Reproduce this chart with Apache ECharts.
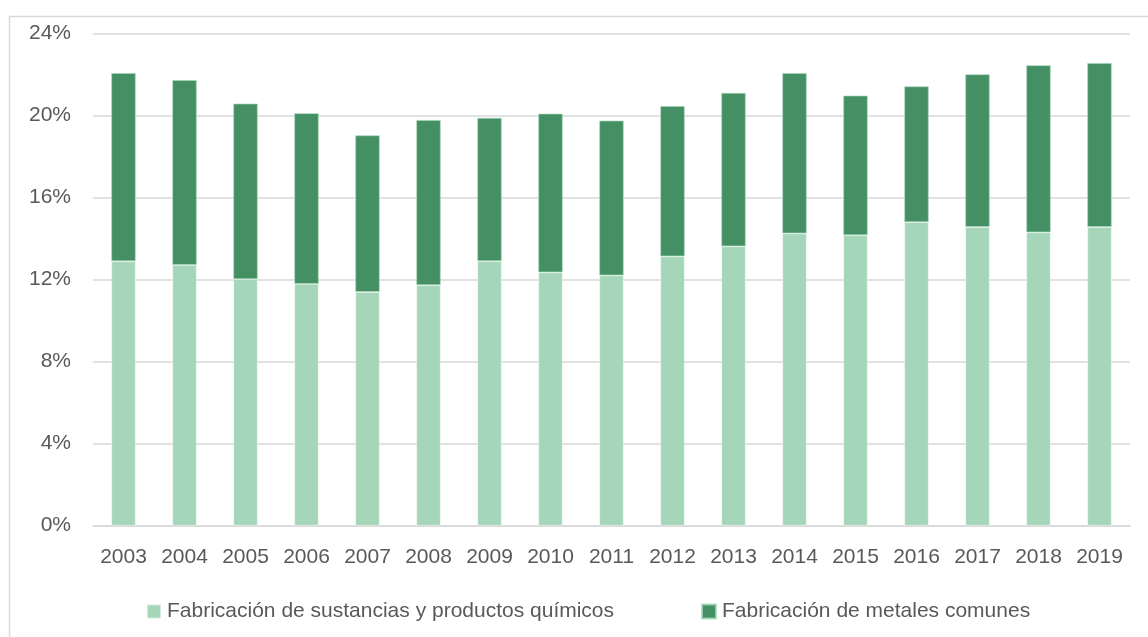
<!DOCTYPE html>
<html>
<head>
<meta charset="utf-8">
<script src="https://cdn.jsdelivr.net/npm/echarts@6/dist/echarts.min.js"></script>
<style>
  html, body { margin: 0; padding: 0; background: #ffffff; }
  #chart { width: 1148px; height: 637px; }
</style>
</head>
<body>
<div id="chart"></div>
<script>
// Años
const years = ['2003','2004','2005','2006','2007','2008','2009','2010','2011','2012','2013','2014','2015','2016','2017','2018','2019'];
// Participación (%) por rama
const quimicos = [12.90, 12.72, 12.03, 11.80, 11.40, 11.74, 12.91, 12.36, 12.21, 13.14, 13.63, 14.26, 14.17, 14.81, 14.57, 14.31, 14.57];
const metales  = [9.18, 9.02, 8.56, 8.32, 7.64, 8.05, 6.98, 7.74, 7.55, 7.33, 7.48, 7.82, 6.81, 6.62, 7.45, 8.15, 8.00];
const seriesNames = ['Fabricación de sustancias y productos químicos', 'Fabricación de metales comunes'];
const yTicks = { min: 0, max: 24, interval: 4 };

const FONT = 'Liberation Sans';
const TXT = '#595959';

const legendBase = {
  bottom: 15,
  padding: 0,
  itemWidth: 14, itemHeight: 14,
  icon: 'rect',
  selectedMode: false,
  textStyle: { fontFamily: FONT, fontSize: 21, color: TXT, padding: [0, 0, 0, 1] }
};

const chart = echarts.init(document.getElementById('chart'), null, { renderer: 'canvas' });
chart.setOption({
  animation: false,
  backgroundColor: '#ffffff',
  graphic: [{
    type: 'rect',
    left: 7, top: 14,
    shape: { width: 1170, height: 700 },
    style: { fill: 'none', stroke: '#d9d9d9', lineWidth: 1.5 },
    silent: true
  }],
  grid: { left: 93, right: 18, top: 33.7, bottom: 111.3, containLabel: false },
  legend: [
    Object.assign({}, legendBase, { left: 146, data: [seriesNames[0]] }),
    Object.assign({}, legendBase, { left: 701, data: [seriesNames[1]] })
  ],
  xAxis: {
    type: 'category',
    data: years,
    axisLine: { lineStyle: { color: '#d9d9d9', width: 1.5 } },
    axisTick: { show: false },
    axisLabel: { fontFamily: FONT, fontSize: 21, color: TXT, margin: 21 }
  },
  yAxis: {
    type: 'value',
    min: yTicks.min, max: yTicks.max, interval: yTicks.interval,
    axisLine: { show: false },
    axisTick: { show: false },
    splitLine: { lineStyle: { color: '#d9d9d9', width: 1.5 } },
    axisLabel: { fontFamily: FONT, fontSize: 21, color: TXT, margin: 22, formatter: '{value}%' }
  },
  series: [
    {
      name: seriesNames[0], type: 'bar', stack: 'total', data: quimicos,
      barWidth: '40%',
      itemStyle: { color: '#a6d6b9', borderColor: 'rgba(255,255,255,0.5)', borderWidth: 0.8 }
    },
    {
      name: seriesNames[1], type: 'bar', stack: 'total', data: metales,
      barWidth: '40%',
      itemStyle: { color: '#448f63', borderColor: 'rgba(166,214,185,0.8)', borderWidth: 0.8 }
    }
  ]
});
</script>
</body>
</html>
